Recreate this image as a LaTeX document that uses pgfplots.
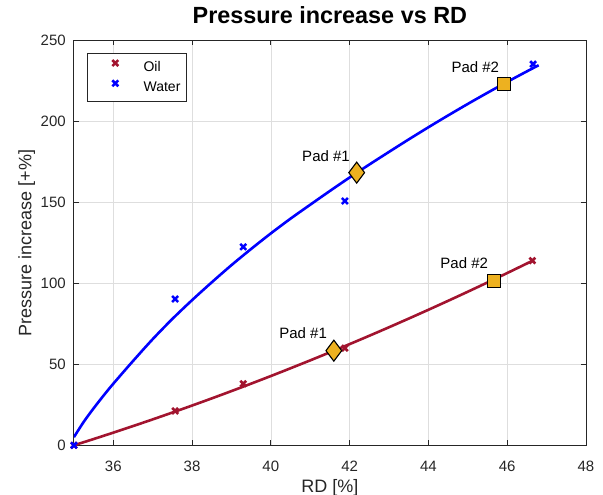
\documentclass[border=0pt]{standalone}
\usepackage{fontspec}
\setmainfont{Liberation Sans}
\usepackage{pgfplots}
\pgfplotsset{compat=1.18}

\definecolor{oilred}{HTML}{A2142F}
\definecolor{padfill}{HTML}{EDB120}
\definecolor{axgray}{HTML}{262626}

\begin{document}
\begin{tikzpicture}
\begin{axis}[
  scale only axis, width=512bp, height=405bp,
  xmin=35, xmax=48, ymin=0, ymax=250,
  xtick={36,38,...,48}, ytick={0,50,...,250},
  grid=major,
  major grid style={draw=black!13, line width=0.6bp},
  axis line style={draw=axgray, line width=0.8bp},
  tick style={draw=axgray, line width=0.8bp},
  major tick length=5bp,
  tick align=inside,
  xtick pos=both, ytick pos=both,
  xticklabel pos=lower, yticklabel pos=left,
  /pgf/number format/assume math mode=true,
  ticklabel style={font=\fontsize{15bp}{18bp}\selectfont, text=axgray, inner sep=0pt},
  xticklabel style={anchor=base, yshift=-26.1bp},
  yticklabel style={anchor=east, xshift=-8bp},
  xlabel={RD [\%]},
  ylabel={Pressure increase [+\%]},
  label style={font=\fontsize{18bp}{21bp}\selectfont, text=axgray},
  xlabel style={at={(0.5,-0.1163)}, anchor=base},
  ylabel style={at={(-0.0832,0.5)}, anchor=base},
  title={Pressure increase vs RD},
  title style={font=\fontsize{23.4bp}{26bp}\selectfont\bfseries, at={(0.5,1.027)}, anchor=base},
  legend style={at={(0,1)}, anchor=north west, xshift=12.8bp, yshift=-13bp,
    draw=axgray, line width=0.6bp, fill=white,
    font=\fontsize{14bp}{16bp}\selectfont,
    inner xsep=6bp, inner ysep=6.5bp, row sep=6.3bp,
    nodes={inner sep=0pt, text height=10bp, text depth=3bp}},
  legend cell align=left,
  legend image code/.code={
    \path[draw=none, fill=none] (0bp,0bp) -- (50.6bp,0bp);
    \draw[#1] plot coordinates {(22.3bp,4.5bp)};
  },
]

% measured points
\addplot[only marks, mark=x, mark size=4.2bp, line width=2.6bp, color=oilred]
  coordinates {(35,0) (37.57,21.2) (39.3,38) (41.88,60) (46.64,114)};
\addlegendentry{Oil}
\addplot[only marks, mark=x, mark size=4.2bp, line width=2.6bp, color=blue]
  coordinates {(35,0) (37.57,90.3) (39.3,122.5) (41.88,150.8) (46.66,235.3)};
\addlegendentry{Water}

% fitted curves
\addplot[forget plot, color=oilred, line width=2.6bp, smooth] coordinates {
  (35,0) (35.5,3.86) (36,7.81) (36.5,11.85) (37,15.99) (37.5,20.22) (38,24.54)
  (38.5,28.95) (39,33.46) (39.5,38.06) (40,42.75) (40.5,47.54) (41,52.42)
  (41.5,57.39) (42,62.45) (42.5,67.61) (43,72.86) (43.5,78.21) (44,83.64)
  (44.5,89.17) (45,94.79) (45.5,100.5) (46,106.31) (46.5,112.21) (46.65,114)};
\addplot[forget plot, color=blue, line width=2.6bp, smooth] coordinates {
  (35,5) (35.25,14.5) (35.5,22.8) (35.75,30.6) (36,38) (36.5,52) (37,65.5)
  (37.5,78) (38,89.6) (38.5,100.6) (39,111.2) (39.5,121.2) (40,130.8)
  (40.5,139.9) (41,148.5) (41.5,157) (42,165.3) (42.5,173.3) (43,181.1)
  (43.5,188.8) (44,196.3) (44.5,203.6) (45,210.7) (45.5,217.6) (46,224.3)
  (46.5,230.8) (46.8,234.6)};

% pad positions
\addplot[forget plot, only marks, mark=diamond*, mark size=10.5bp,
  mark options={fill=padfill, draw=black, line width=1.1bp}]
  coordinates {(42.18,168.3) (41.6,58.4)};
\addplot[forget plot, only marks, mark=square*, mark size=6.5bp,
  mark options={fill=padfill, draw=black, line width=1.1bp}]
  coordinates {(45.92,223) (45.66,101.6)};

\begin{scope}[every node/.style={font=\fontsize{15bp}{18bp}\selectfont, inner sep=0pt, anchor=east}]
  \node at (axis cs:42.01,178.6) {Pad \#1};
  \node at (axis cs:41.43,69.1) {Pad \#1};
  \node at (axis cs:45.80,233.7) {Pad \#2};
  \node at (axis cs:45.52,112.3) {Pad \#2};
\end{scope}
\end{axis}
\pgfresetboundingbox
\useasboundingbox (-73.9bp,-49.7bp) rectangle (529.1bp,445.3bp);
\end{tikzpicture}
\end{document}
